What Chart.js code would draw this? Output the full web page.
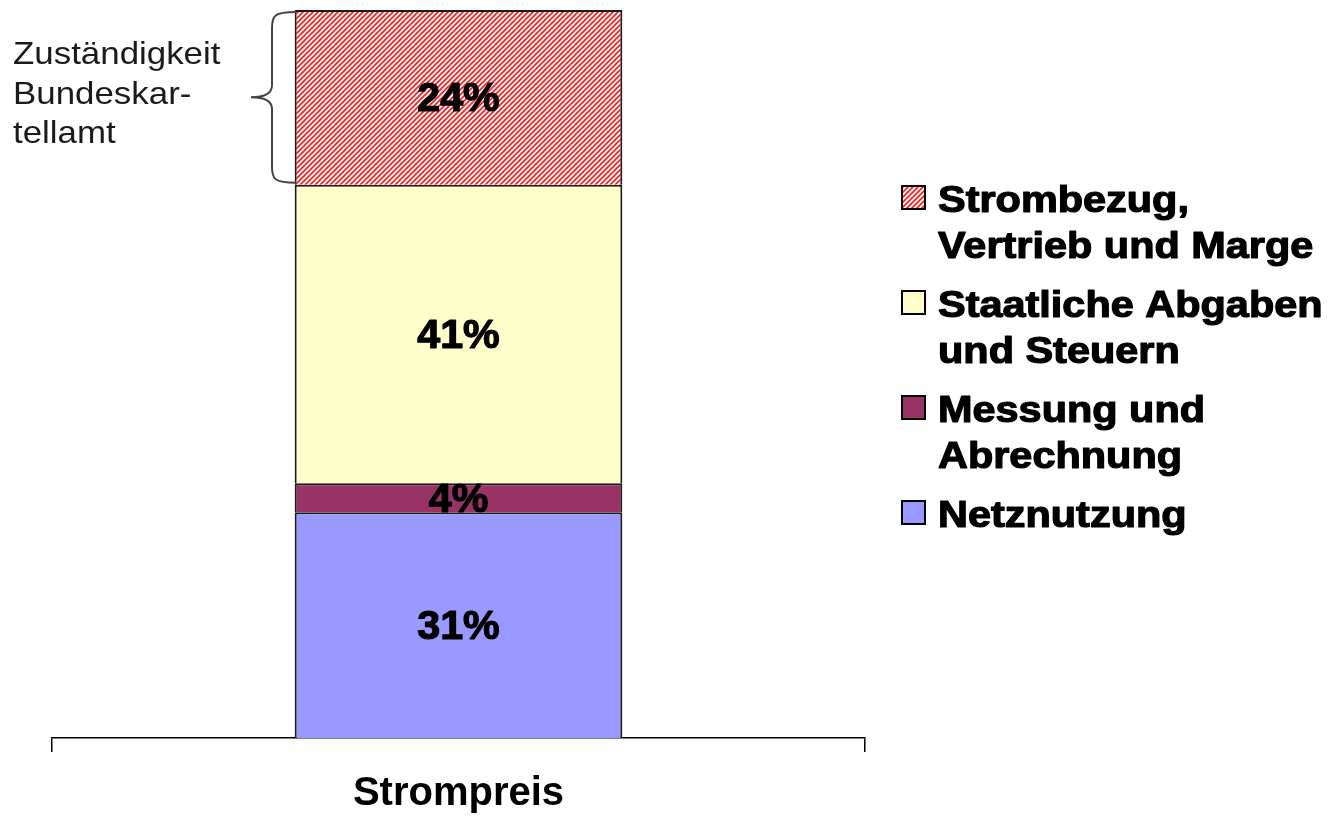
<!DOCTYPE html>
<html>
<head>
<meta charset="utf-8">
<script src="https://cdn.jsdelivr.net/npm/chart.js@4"></script>
<style>
html,body{margin:0;padding:0;background:#fff;}
#wrap{width:1332px;height:820px;position:relative;}
</style>
</head>
<body>
<div id="wrap"><canvas id="c" width="1332" height="820"></canvas></div>
<script>
// ---- data ----
const categories = ['Strompreis'];
const seriesNames = ['Netznutzung', 'Messung und\nAbrechnung', 'Staatliche Abgaben\nund Steuern', 'Strombezug,\nVertrieb und Marge'];
const netznutzung = [31];
const messung = [4];
const staatlich = [41];
const strombezug = [24];
const annotationLines = ['Zuständigkeit', 'Bundeskar-', 'tellamt'];

// ---- styles ----
function hatch(){
  const s = 5;
  const c = document.createElement('canvas');
  c.width = s; c.height = s;
  const g = c.getContext('2d');
  g.fillStyle = '#ffffff'; g.fillRect(0,0,s,s);
  g.strokeStyle = '#ff1a1a'; g.lineWidth = 1.6;
  g.beginPath();
  g.moveTo(0,s); g.lineTo(s,0);
  g.moveTo(-1,1); g.lineTo(1,-1);
  g.moveTo(s-1,s+1); g.lineTo(s+1,s-1);
  g.stroke();
  return document.getElementById('c').getContext('2d').createPattern(c,'repeat');
}
const hatchPattern = hatch();
const fills = ['#9999ff', '#993366', '#ffffcc', hatchPattern];
const seriesValues = [netznutzung, messung, staatlich, strombezug];

const bgPlugin = {
  id:'bg',
  beforeDraw(chart){
    const ctx = chart.ctx; ctx.save(); ctx.fillStyle='#fff';
    ctx.fillRect(0,0,chart.width,chart.height); ctx.restore();
  }
};

function stretchedText(ctx, text, x, y, sx, bold){
  ctx.save(); ctx.translate(x,y); ctx.scale(sx,1);
  if (bold) { ctx.lineWidth = bold; ctx.strokeStyle = ctx.fillStyle; ctx.lineJoin='round'; ctx.strokeText(text,0,0); }
  ctx.fillText(text,0,0); ctx.restore();
}

const labelPlugin = {
  id:'labels',
  afterDatasetsDraw(chart){
    const ctx = chart.ctx;
    ctx.save();
    ctx.fillStyle = '#000';
    ctx.font = 'bold 40px "Liberation Sans", Arial, sans-serif';
    ctx.textAlign = 'center'; ctx.textBaseline = 'middle';
    chart.data.datasets.forEach((ds, i) => {
      const meta = chart.getDatasetMeta(i);
      meta.data.forEach((bar, j) => {
        const yc = (bar.y + bar.base) / 2;
        stretchedText(ctx, ds.data[j] + '%', bar.x, yc + 3, 1.03, 1.2);
      });
    });
    ctx.restore();
  }
};

const legendPlugin = {
  id:'customLegend',
  afterDraw(chart){
    const ctx = chart.ctx;
    ctx.save();
    ctx.font = 'bold 37px "Liberation Sans", Arial, sans-serif';
    ctx.textBaseline = 'alphabetic'; ctx.textAlign = 'left';
    let y = 212;
    const ds = chart.data.datasets.slice().reverse();
    ds.forEach(d => {
      const lines = d.label.split('\n');
      ctx.fillStyle = d.backgroundColor;
      ctx.fillRect(902, y-26, 23, 23);
      ctx.strokeStyle = '#000'; ctx.lineWidth = 2;
      ctx.strokeRect(902, y-26, 23, 23);
      ctx.fillStyle = '#000';
      lines.forEach((ln, k) => {
        stretchedText(ctx, ln, 938, y + k*46, 1.12, 1.2);
      });
      y += (lines.length-1)*46 + 59;
    });
    ctx.restore();
  }
};

const annotPlugin = {
  id:'annot',
  afterDraw(chart){
    const ctx = chart.ctx;
    const ys = chart.scales.y;
    const total = netznutzung[0] + messung[0] + staatlich[0] + strombezug[0];
    const top = ys.getPixelForValue(total) + 2;
    const bot = ys.getPixelForValue(total - strombezug[0]) - 2;
    const mid = (top + bot) / 2;
    ctx.save();
    ctx.strokeStyle = '#444'; ctx.lineWidth = 2;
    const xr = 296, xm = 272, xt = 251;
    ctx.beginPath();
    ctx.moveTo(xr, top);
    ctx.bezierCurveTo(xm+2, top, xm, top+4, xm, top+16);
    ctx.lineTo(xm, mid-12);
    ctx.bezierCurveTo(xm, mid-4, xm-8, mid, xt, mid);
    ctx.bezierCurveTo(xm-8, mid, xm, mid+4, xm, mid+12);
    ctx.lineTo(xm, bot-16);
    ctx.bezierCurveTo(xm, bot-4, xm+2, bot, xr, bot);
    ctx.stroke();
    ctx.fillStyle = '#1a1a1a';
    ctx.font = '32px "Liberation Sans", Arial, sans-serif';
    ctx.textBaseline = 'alphabetic'; ctx.textAlign='left';
    annotationLines.forEach((t, i) => stretchedText(ctx, t, 13, 64 + i*39.5, 1.09, 0));
    ctx.restore();
  }
};

new Chart(document.getElementById('c'), {
  type:'bar',
  data:{
    labels: categories,
    datasets: seriesNames.map((n, i) => ({
      label: n,
      data: seriesValues[i],
      backgroundColor: fills[i],
      borderColor: '#1a1a1a',
      borderWidth: 2,
      categoryPercentage: 1.0,
      barPercentage: 0.403
    }))
  },
  options:{
    responsive:false,
    animation:false,
    devicePixelRatio:1,
    layout:{padding:{left:52, right:467, top:10, bottom:0}},
    plugins:{legend:{display:false}, tooltip:{enabled:false}},
    scales:{
      x:{
        stacked:true,
        border:{display:true, color:'#000', width:1.5},
        grid:{display:true, drawOnChartArea:false, drawTicks:true, tickLength:14, offset:true, color:'#000', lineWidth:1.5},
        ticks:{color:'#000', padding:18, font:{family:'"Liberation Sans", Arial, sans-serif', size:40, weight:'bold'}},
        afterFit(scale){ scale.height = 82; }
      },
      y:{
        stacked:true, display:false, min:0, max:100
      }
    }
  },
  plugins:[bgPlugin, labelPlugin, legendPlugin, annotPlugin]
});
</script>
</body>
</html>
